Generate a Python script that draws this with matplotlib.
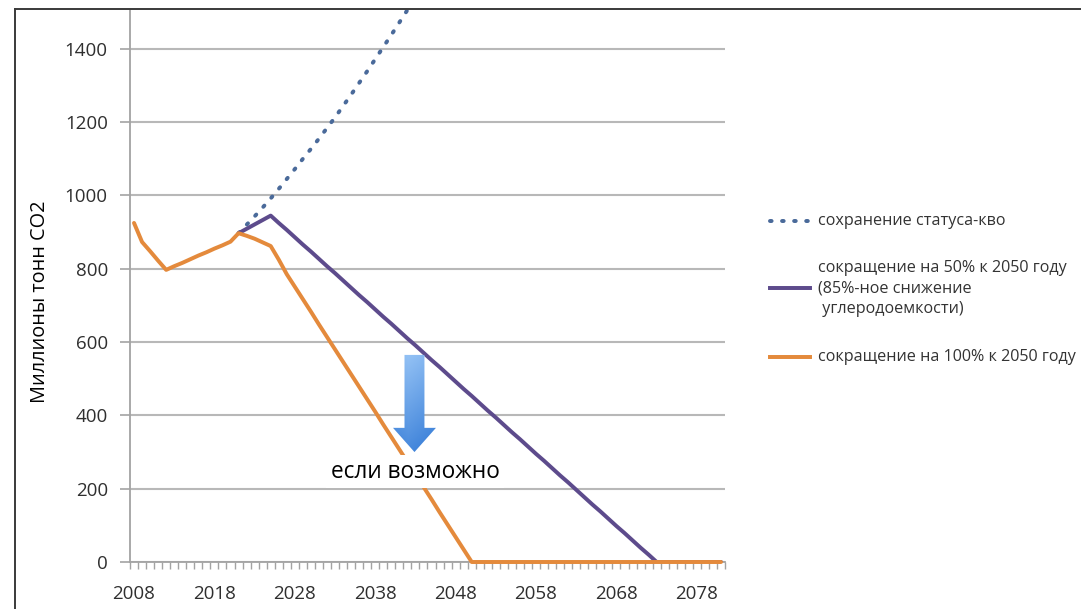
import numpy as np
import matplotlib
matplotlib.use("Agg")
import matplotlib.pyplot as plt
from matplotlib.lines import Line2D
from matplotlib.patches import Polygon

plt.rcParams['font.family'] = ['Open Sans', 'DejaVu Sans']

# ---- data (million tonnes CO2) ----
years = list(range(2008, 2082))

# business as usual
bau_years = list(range(2021, 2046))
bau = [897, 920, 943, 967, 992, 1018, 1045, 1072, 1100, 1127,
       1155, 1184, 1213, 1244, 1275, 1307, 1339, 1372, 1405, 1438,
       1472, 1506, 1540, 1575, 1610]

# 50% cut by 2050
cut50_years = list(range(2021, 2082))
cut50 = [897, 909, 921, 933, 945,
         925, 906, 886, 866, 847, 827, 807, 788, 768, 748,
         728, 709, 689, 669, 650, 630, 610, 591, 571, 551,
         532, 512, 492, 472, 453, 433, 413, 394, 374, 354,
         335, 315, 295, 276, 256, 236, 217, 197, 177, 157,
         138, 118, 98, 79, 59, 39, 20, 0,
         0, 0, 0, 0, 0, 0, 0, 0]

# 100% cut by 2050
cut100 = [925, 873, 848, 822, 797, 807, 816, 826, 836, 845,
          855, 864, 874, 897, 890, 882, 872, 862, 825, 785,
          751, 717, 683, 648, 614, 580, 546, 512, 478, 444,
          410, 375, 341, 307, 273, 239, 205, 171, 136, 102,
          68, 34, 0, 0, 0, 0, 0, 0, 0, 0,
          0, 0, 0, 0, 0, 0, 0, 0, 0, 0,
          0, 0, 0, 0, 0, 0, 0, 0, 0, 0,
          0, 0, 0, 0]

x_ticks = [2008, 2018, 2028, 2038, 2048, 2058, 2068, 2078]
y_ticks = [0, 200, 400, 600, 800, 1000, 1200, 1400]

legend_labels = ['сохранение статуса-кво',
                 ['сокращение на 50% к 2050 году', '(85%-ное снижение', ' углеродоемкости)'],
                 'сокращение на 100% к 2050 году']

# ---- styling ----
W, H = 1081, 609
C_BAU = '#4a6a9a'
C_50 = '#5d4b8c'
C_100 = '#e48a3c'
C_AXIS = '#a3a3a3'
C_GRID = '#b8b8b8'
C_TICK = '#2f2f2f'
LW = 2.85
DOT = (0, (0.4, 2.65))


def fx(px):
    return px / W


def fy(py):
    return 1 - py / H


fig = plt.figure(figsize=(W / 100, H / 100), dpi=100)
ax = fig.add_axes([fx(130), 47 / H, 595 / W, 552 / H])

ax.set_xlim(2007.5, 2081.5)
ax.set_ylim(0, 1506)

ax.set_yticks(y_ticks)
ax.set_xticks(x_ticks)
ax.set_xticks(np.arange(2007.5, 2081.6, 1), minor=True)
ax.yaxis.grid(True, color=C_GRID, lw=1.5, zorder=0)
ax.set_axisbelow(True)

for s in ['top', 'right']:
    ax.spines[s].set_visible(False)
for s in ['left', 'bottom']:
    ax.spines[s].set_color(C_AXIS)
    ax.spines[s].set_linewidth(1.3)

ax.tick_params(axis='y', length=7, width=1.2, color=C_AXIS, pad=9,
               labelsize=13.5, labelcolor=C_TICK)
ax.tick_params(axis='x', which='major', length=0, pad=16.5,
               labelsize=13.5, labelcolor=C_TICK)
ax.tick_params(axis='x', which='minor', length=5, width=1.0, color=C_AXIS)

# ---- series ----
ax.plot(bau_years, bau, color=C_BAU, lw=LW, linestyle=DOT,
        dash_capstyle='round', zorder=3)
ax.plot(cut50_years, cut50, color=C_50, lw=LW, solid_capstyle='round',
        solid_joinstyle='round', zorder=3)
ax.plot(years, cut100, color=C_100, lw=LW, solid_capstyle='round',
        solid_joinstyle='round', zorder=4, clip_on=False)

# ---- downward arrow with gradient fill ----
cx = 2042.88
shaft_hw, head_hw = 1.24, 2.67
y_top, y_head, y_tip = 565, 366, 300
arrow_pts = [(cx - shaft_hw, y_top), (cx + shaft_hw, y_top),
             (cx + shaft_hw, y_head), (cx + head_hw, y_head),
             (cx, y_tip), (cx - head_hw, y_head), (cx - shaft_hw, y_head)]
arrow = Polygon(arrow_pts, closed=True, facecolor='none', edgecolor='none')
ax.add_patch(arrow)

ny, nx = 120, 60
tv = np.linspace(0, 1, ny)[:, None]
th = np.linspace(0, 1, nx)[None, :]
light = np.array([0.58, 0.76, 0.96])
dark = np.array([0.20, 0.48, 0.84])
mix = tv[..., None] * 0.8 + 0.2 * np.abs(th[..., None] - 0.35) * 1.6
mix = np.clip(mix, 0, 1)
grad = light * (1 - mix) + dark * mix
img = ax.imshow(grad, extent=[cx - head_hw, cx + head_hw, y_tip, y_top],
                origin='upper', aspect='auto', zorder=5, interpolation='bilinear')
img.set_clip_path(arrow)
ax.set_xlim(2007.5, 2081.5)
ax.set_ylim(0, 1506)

ax.text(2042.95, 246, 'если возможно', ha='center', va='center',
        fontsize=16.3, color='black', zorder=6,
        bbox=dict(boxstyle='square,pad=0.2', facecolor='white', edgecolor='none'))

# ---- legend ----
LEG_FS = 11.6
hx0, hx1, tx = fx(770), fx(810), fx(818)
fig.add_artist(Line2D([hx0, hx1], [fy(221)] * 2, color=C_BAU, lw=LW,
                      linestyle=DOT, dash_capstyle='round'))
fig.text(tx, fy(221), legend_labels[0], ha='left', va='center',
         fontsize=LEG_FS, color='#333333')
fig.add_artist(Line2D([hx0, hx1], [fy(288)] * 2, color=C_50, lw=LW))
for i, line in enumerate(legend_labels[1]):
    fig.text(tx, fy(268 + 20.3 * i), line, ha='left', va='center',
             fontsize=LEG_FS, color='#333333')
fig.add_artist(Line2D([hx0, hx1], [fy(357)] * 2, color=C_100, lw=LW))
fig.text(tx, fy(357), legend_labels[2], ha='left', va='center',
         fontsize=LEG_FS, color='#333333')

# ---- axis title ----
fig.text(fx(40), fy(302), 'Миллионы тонн CO2', rotation=90,
         ha='center', va='center', fontsize=14.3, color='black')

# ---- outer frame (left and top edges) ----
fig.add_artist(Line2D([fx(15), fx(15)], [0, fy(9)], color='#3a3a3a', lw=1.4))
fig.add_artist(Line2D([fx(15), 1], [fy(9), fy(9)], color='#3a3a3a', lw=1.4))

fig.savefig('out.png', dpi=100)
